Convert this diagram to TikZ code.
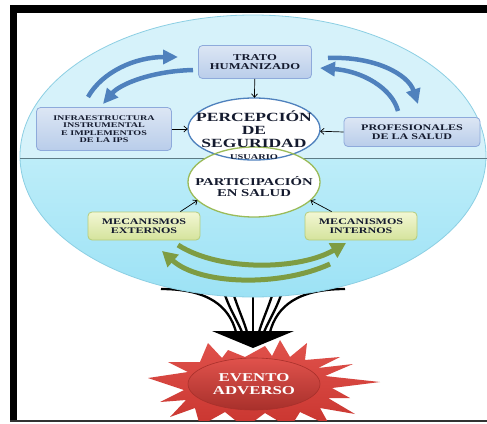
\documentclass[tikz,border=0pt]{standalone}
\usepackage{fontspec}
\setmainfont{Liberation Serif}
\newfontfamily\diafont{Liberation Serif}[FakeStretch=1.4]
\usetikzlibrary{arrows.meta,shapes.geometric}

\definecolor{campoalto}{HTML}{D6F2FA}
\definecolor{campobajo}{HTML}{BDEDF9}
\definecolor{campofondo}{HTML}{9CE2F5}
\definecolor{campoborde}{HTML}{8CCFE3}
\definecolor{azulclaro}{HTML}{DCE6F4}
\definecolor{azulmedio}{HTML}{B9CDEA}
\definecolor{azulborde}{HTML}{8EAADB}
\definecolor{azulflecha}{HTML}{4F81BD}
\definecolor{azulovalo}{HTML}{4F81BD}
\definecolor{verdeclaro}{HTML}{F2F7D4}
\definecolor{verdemedio}{HTML}{D5E39C}
\definecolor{verdeborde}{HTML}{B5CC7A}
\definecolor{verdeovalo}{HTML}{9BBB59}
\definecolor{verdeflecha}{HTML}{7E9C43}
\definecolor{rojoclaro}{HTML}{E0524C}
\definecolor{rojo}{HTML}{C9352F}
\definecolor{rojooscuro}{HTML}{A8302B}
\definecolor{tinta}{HTML}{141A2E}
\definecolor{divisor}{HTML}{5E7C86}

\newcommand{\tam}[2]{\fontsize{#1}{#2}\selectfont}

\begin{document}
\begin{tikzpicture}[
    x=1pt, y=-1pt,
    txt/.style={text=tinta, align=center, inner sep=0pt},
    azulbox/.style={draw=azulborde, line width=0.8pt, rounded corners=4pt,
                top color=azulclaro, bottom color=azulmedio, txt},
    verdebox/.style={draw=verdeborde, line width=0.8pt, rounded corners=4pt,
                top color=verdeclaro, bottom color=verdemedio, txt},
    ovalo/.style={ellipse, fill=white, inner sep=0pt},
    flechita/.style={-{Straight Barb[length=3.5pt,width=6pt]}, line width=0.7pt},
    bluearrow/.style={azulflecha, line width=4.5pt, -{Triangle[length=15pt,width=14pt]}},
    greenarrow/.style={verdeflecha, line width=5pt, -{Triangle[length=15pt,width=16pt]}},
    funnel/.style={line width=2.3pt, black}
]
\useasboundingbox (0,0) rectangle (487,423);
\fill[white] (0,0) rectangle (487,423);

% ---------- frame ----------
\fill[black] (10,5) rectangle (487,13);
\fill[black] (10,5) rectangle (17,421);
\draw[line width=2pt, black!80] (10,421) -- (487,421);

% ---------- funnel towards the arrow ----------
\foreach \s in {1,-1} {
  \draw[funnel] (253-92*\s,289) .. controls (253-45*\s,289) and (253-24*\s,306) .. (253-17*\s,332);
  \draw[funnel] (253-31*\s,285) .. controls (253-26*\s,305) and (253-17*\s,318) .. (253-11*\s,332);
  \draw[funnel] (253-22*\s,285) .. controls (253-17*\s,305) and (253-10*\s,318) .. (253-6*\s,332);
}
\draw[funnel] (253,285) -- (253,332);

% ---------- big field ----------
\begin{scope}
  \clip (253,156) ellipse [x radius=233, y radius=141];
  \fill[campoalto] (0,0) rectangle (487,158);
  \shade[top color=campobajo, bottom color=campofondo] (0,158) rectangle (487,298);
\end{scope}
\draw[campoborde, line width=0.8pt] (253,156) ellipse [x radius=233, y radius=141];
\draw[divisor, line width=0.9pt] (20,158) -- (487,158);

% ---------- upper half ----------
\node[azulbox, minimum width=113pt, minimum height=33pt,
      font=\diafont\bfseries\tam{9}{9.5}] (trato) at (255,62) {TRATO\\HUMANIZADO};
\node[azulbox, minimum width=135pt, minimum height=43pt,
      font=\diafont\bfseries\tam{7.2}{7.3}] (infra) at (104,129)
   {INFRAESTRUCTURA\\INSTRUMENTAL\\E IMPLEMENTOS\\DE LA IPS};
\node[azulbox, minimum width=136pt, minimum height=29pt,
      font=\diafont\bfseries\tam{8.6}{9.5}] (prof) at (412,132) {PROFESIONALES\\DE LA SALUD};

\coordinate (a1) at (88,97);   \coordinate (a1t) at (178,57);
\coordinate (a2) at (193,70);  \coordinate (a2t) at (103,104);
\coordinate (a3) at (328,58);  \coordinate (a3t) at (418,104);
\coordinate (a4) at (398,111); \coordinate (a4t) at (320,68);
\draw[bluearrow] (a1) .. controls (102,72) and (135,57) .. (a1t);
\draw[bluearrow] (a2) .. controls (152,71) and (120,84) .. (a2t);
\draw[bluearrow] (a3) .. controls (374,56) and (408,74) .. (a3t);
\draw[bluearrow] (a4) .. controls (392,88) and (362,71) .. (a4t);

% ---------- lower half ----------
\node[verdebox, minimum width=112pt, minimum height=28pt,
      font=\diafont\bfseries\tam{8.6}{9.5}] (ext) at (144,226) {MECANISMOS\\EXTERNOS};
\node[verdebox, minimum width=112pt, minimum height=28pt,
      font=\diafont\bfseries\tam{8.6}{9.5}] (int) at (361,226) {MECANISMOS\\INTERNOS};

\coordinate (g1) at (178,245); \coordinate (g1t) at (346,243);
\coordinate (g2) at (330,264); \coordinate (g2t) at (162,251);
\draw[greenarrow] (g1) .. controls (220,272) and (300,270) .. (g1t);
\draw[greenarrow] (g2) .. controls (280,287) and (200,285) .. (g2t);

% ---------- central ovals ----------
\node[ovalo, minimum width=132pt, minimum height=62pt] (percep) at (254,129) {};
\node[ovalo, minimum width=132pt, minimum height=70pt] (partic) at (254,182) {};
\draw[azulovalo, line width=1.3pt] (254,129) ellipse [x radius=66, y radius=31];
\draw[verdeovalo, line width=1.3pt] (254,182) ellipse [x radius=66, y radius=35];
\node[txt, font=\diafont\bfseries\tam{12.5}{13}] (percept) at (254,129)
   {PERCEPCIÓN\\DE\\SEGURIDAD};
\node[txt, font=\diafont\bfseries\tam{7.4}{8}] (usuario) at (254,157.5) {USUARIO};
\node[txt, font=\diafont\bfseries\tam{10.5}{11}] (partict) at (254,187)
   {PARTICIPACIÓN\\EN SALUD};

\draw[flechita] (trato) -- (percep);
\draw[flechita] (infra.east) -- (percep);
\draw[flechita] (prof.west) -- (percep);
\draw[flechita] ([xshift=-20pt]ext.north east) -- (partic.198);
\draw[flechita] ([xshift=27pt]int.north west) -- (partic.342);

% ---------- adverse event ----------
\begin{scope}
  \clip (0,0) rectangle (487,420);
  \shade[top color=rojoclaro, bottom color=rojo]
    (380,382) -- (332,388) -- (350,398) -- (328,398) -- (355,414) -- (320,408)
    -- (330,426) -- (300,412) -- (290,428) -- (265,413) -- (245,428) -- (225,412)
    -- (200,426) -- (195,408) -- (170,417) -- (186,400) -- (160,402) -- (184,390)
    -- (148,378) -- (188,372) -- (168,362) -- (200,362) -- (208,343) -- (222,358)
    -- (228,350) -- (245,357) -- (265,346) -- (272,356) -- (280,340) -- (290,357)
    -- (307,343) -- (305,360) -- (340,357) -- (318,368) -- (353,364) -- (325,376)
    -- cycle;
\end{scope}
\node[ellipse, minimum width=132pt, minimum height=52pt, inner sep=0pt,
      draw=rojooscuro, line width=0.6pt, top color=rojoclaro, bottom color=rojooscuro,
      text=white, align=center, font=\diafont\bfseries\tam{12}{13}] (evento) at (254,384)
   {EVENTO\\ADVERSO};

\fill[black] (212,331) -- (294,331) -- (253,348) -- cycle;

\end{tikzpicture}
\end{document}
